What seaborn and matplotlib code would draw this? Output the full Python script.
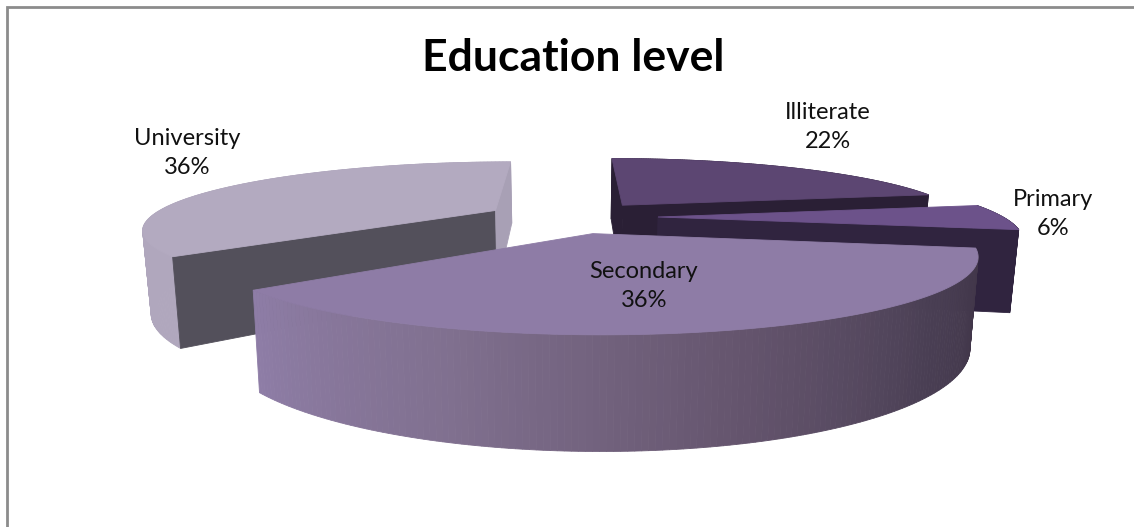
import numpy as np
import matplotlib
matplotlib.use("Agg")
import matplotlib.pyplot as plt
import seaborn as sns

# Chart content
title = "Education level"
categories = ["Illiterate", "Primary", "Secondary", "University"]
shares = [22, 6, 36, 36]

# Label anchors in figure pixels, one per category
label_x = [828, 1053, 644, 187]
label_y = [127, 214, 286, 153]

# How far each slice is pulled out of the pie
explode = [0.25, 0.255, 0.25, 0.245]

# Slice colours: top face, radial face, rim shading from the far end to the lit end
top_colors = ["#5C4672", "#6C528A", "#8E7CA6", "#B3AAC0"]
radial_colors = ["#2A1F35", "#30243F", "#30243F", "#53505B"]
rim_ramps = [
    ["#2A1F35", "#2A1F35"],
    ["#30243F", "#30243F"],
    ["#3E3346", "#4A3F54", "#66566F", "#80708F", "#8E7DA6"],
    ["#B0A7BD", "#B0A7BD"],
]
back_face_color = "#A8A0B5"

# Perspective model of the pie
CX, VY = 570.0, -30.0      # vanishing point of the receding direction
RADIUS = 345.0             # horizontal scale of the unit circle
TOP_DROP, BOTTOM_DROP = 247.0, 326.0
BOTTOM_SCALE = 0.98
PERSPECTIVE = 0.26


def project(u, v, bottom=False):
    """Map pie-plane coordinates to pixel coordinates on the top or bottom disc."""
    u, v = np.asarray(u, float), np.asarray(v, float)
    w = 1 + PERSPECTIVE * v
    scale = BOTTOM_SCALE if bottom else 1.0
    drop = BOTTOM_DROP if bottom else TOP_DROP
    return CX + RADIUS * scale * u / w, VY + drop / w


def direction(theta):
    """Unit vector for an angle measured clockwise from twelve o'clock."""
    return np.sin(theta), np.cos(theta)


def radial_visible(apex, theta, side):
    nu, nv = direction(theta + side * np.pi / 2)
    return (0 - apex[0]) * nu + (-1 / PERSPECTIVE - apex[1]) * nv > 0


sns.set_theme(style="white")
plt.rcParams["font.family"] = ["Lato", "DejaVu Sans"]

fig = plt.figure(figsize=(11.34, 5.27), dpi=100)
ax = fig.add_axes([0, 0, 1, 1])
ax.set_xlim(0, 1134)
ax.set_ylim(527, 0)
ax.axis("off")

# Chart-area frame, cropped on the right and at the bottom
ax.plot([7, 7, 1134], [527, 7, 7], color="#8C8C8C", lw=2, solid_joinstyle="miter", zorder=1)

edges = np.concatenate([[0], np.cumsum(shares)]) / np.sum(shares) * 2 * np.pi
draw_order = [3, 0, 1, 2]  # back of the pie first

for i in draw_order:
    start, end = edges[i], edges[i + 1]
    mid = (start + end) / 2
    apex = (explode[i] * np.sin(mid), explode[i] * np.cos(mid))
    thetas = np.linspace(start, end, 161)
    arc_u = apex[0] + np.sin(thetas)
    arc_v = apex[1] + np.cos(thetas)
    top_x, top_y = project(arc_u, arc_v)
    bot_x, bot_y = project(arc_u, arc_v, bottom=True)

    # Rim, shaded strip by strip from the far end to the lit end
    ramp = sns.blend_palette(rim_ramps[i], n_colors=len(thetas) - 1)
    for j, col in enumerate(ramp):
        ax.fill([top_x[j], top_x[j + 1], bot_x[j + 1], bot_x[j]],
                [top_y[j], top_y[j + 1], bot_y[j + 1], bot_y[j]],
                color=col, lw=0.6, zorder=2)

    # Cut faces, back-facing ones skipped
    for theta, side in ((start, -1), (end, 1)):
        if not radial_visible(apex, theta, side):
            continue
        du, dv = direction(theta)
        a_top = project(apex[0], apex[1])
        e_top = project(apex[0] + du, apex[1] + dv)
        a_bot = project(apex[0], apex[1], bottom=True)
        e_bot = project(apex[0] + du, apex[1] + dv, bottom=True)
        face = back_face_color if (i == 3 and side == 1) else radial_colors[i]
        ax.fill([a_top[0], e_top[0], e_bot[0], a_bot[0]],
                [a_top[1], e_top[1], e_bot[1], a_bot[1]],
                color=face, lw=0.6, zorder=2)

    # Top face
    apex_x, apex_y = project(*apex)
    ax.fill(np.r_[apex_x, top_x], np.r_[apex_y, top_y], color=top_colors[i], lw=0.6, zorder=2)

for cat, pct, x, y in zip(categories, shares, label_x, label_y):
    ax.text(x, y, f"{cat}\n{pct}%", ha="center", va="center", fontsize=17,
            color="#111111", linespacing=1.5, zorder=3)

ax.text(573, 58, title, ha="center", va="center", fontsize=32, fontweight="bold",
        color="black", zorder=3)

fig.savefig("out.png", dpi=100, facecolor="white")
